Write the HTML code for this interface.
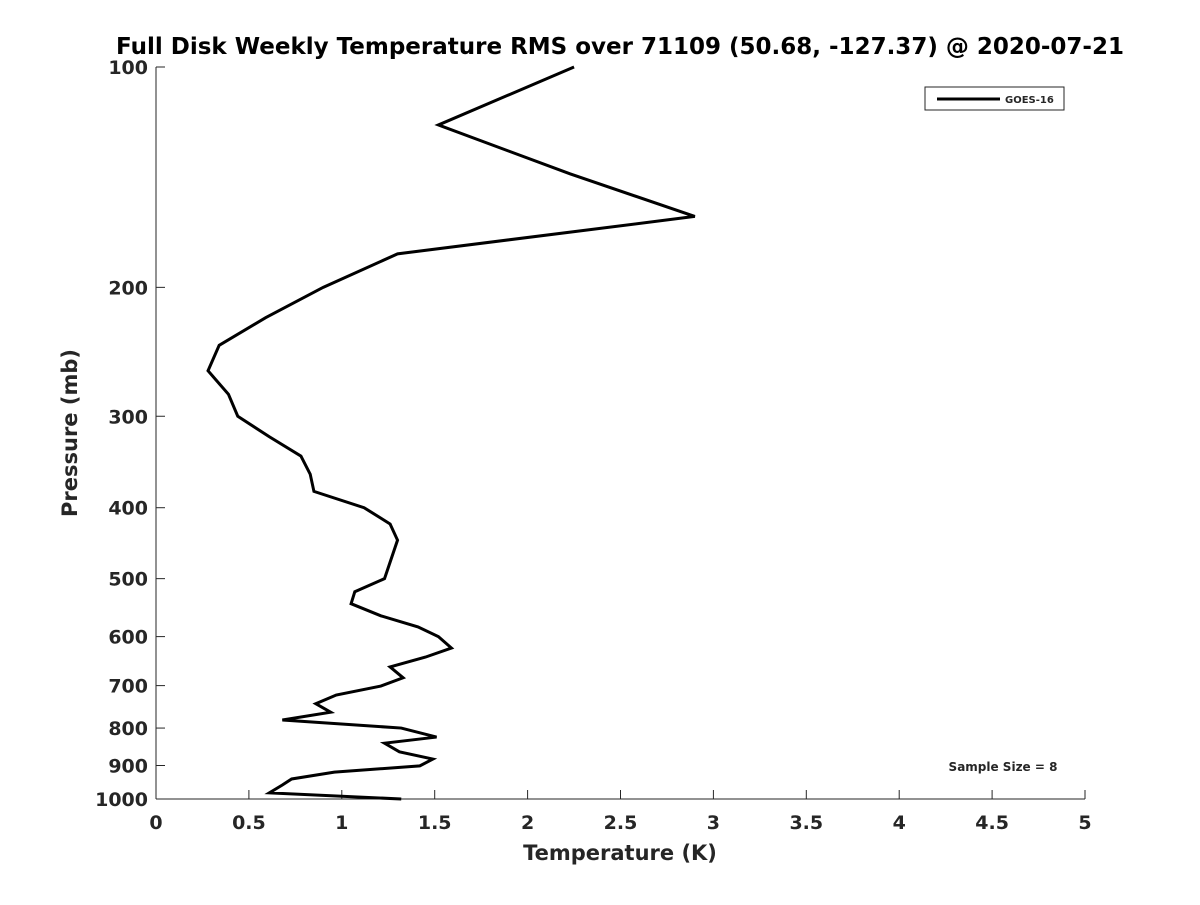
<!DOCTYPE html>
<html><head><meta charset="utf-8"><style>
body{margin:0;background:#fff;font-family:"Liberation Sans","DejaVu Sans",sans-serif;}
svg text{font-family:"DejaVu Sans","Liberation Sans",sans-serif;font-weight:bold;fill:#262626;}
</style></head><body>
<svg id="chart" width="1200" height="900" xmlns="http://www.w3.org/2000/svg">
<rect width="1200" height="900" fill="#fff"/>
<text x="620" y="54" font-size="23" text-anchor="middle" fill="#000" style="fill:#000">Full Disk Weekly Temperature RMS over 71109 (50.68, -127.37) @ 2020-07-21</text>
<g id="axes"></g>
<polyline id="series" fill="none" stroke="#000" stroke-width="3" stroke-linejoin="miter"/>
<text x="620" y="860" font-size="21" text-anchor="middle">Temperature (K)</text>
<text transform="translate(77,433) rotate(-90)" font-size="21" text-anchor="middle">Pressure (mb)</text>
<g>
<rect x="925" y="87" width="139" height="23" fill="#fff" stroke="#262626" stroke-width="1"/>
<line x1="937" y1="99" x2="1000" y2="99" stroke="#000" stroke-width="3"/>
<text x="1005" y="103" font-size="10">GOES-16</text>
</g>
<text x="1003" y="771" font-size="12" text-anchor="middle">Sample Size = 8</text>
</svg>
<script>
const temps=[2.25,1.52,2.23,2.90,1.30,0.90,0.59,0.34,0.28,0.39,0.44,0.61,0.78,0.83,0.85,1.12,1.26,1.30,1.23,1.07,1.05,1.21,1.41,1.52,1.59,1.45,1.26,1.33,1.21,0.97,0.86,0.94,0.68,1.32,1.51,1.23,1.31,1.49,1.42,0.96,0.73,0.68,0.61,1.32];
const pressures=[100,120,140,160,180,200,220,240,260,280,300,320,340,360,380,400,421,443,500,521,541,562,582,600,622,640,660,683,701,721,741,761,780,800,823,839,862,882,901,919,939,957,981,1000];
const xTicks=[0,0.5,1,1.5,2,2.5,3,3.5,4,4.5,5];
const xTickLabels=["0","0.5","1","1.5","2","2.5","3","3.5","4","4.5","5"];
const yTicks=[100,200,300,400,500,600,700,800,900,1000];
const L=156,R=1085,T=67,B=799;
function xs(v){return L+(v-0)/(5-0)*(R-L);}
function ys(p){return T+(Math.log10(p)-2)/(1)*(B-T);}
const NS="http://www.w3.org/2000/svg";
const ax=document.getElementById('axes');
function mk(tag,attrs){const e=document.createElementNS(NS,tag);for(const k in attrs)e.setAttribute(k,attrs[k]);return e;}
let l=mk('line',{x1:L,y1:T,x2:L,y2:B,stroke:'#262626','stroke-width':1});


ax.appendChild(l);
l=mk('line',{x1:L,y1:B,x2:R,y2:B,stroke:'#262626','stroke-width':1});


ax.appendChild(l);
xTicks.forEach((v,i)=>{
  const x=xs(v);
  const t=mk('line',{x1:x,y1:B,x2:x,y2:B-9,stroke:'#262626','stroke-width':1});
  
  
  ax.appendChild(t);
  const tx=mk('text',{x:x,y:B+30,'font-size':19,'text-anchor':'middle'});
  tx.textContent=xTickLabels[i];
  
  
  ax.appendChild(tx);
});
yTicks.forEach(p=>{
  const y=ys(p);
  const t=mk('line',{x1:L,y1:y,x2:L+9,y2:y,stroke:'#262626','stroke-width':1});
  
  
  ax.appendChild(t);
  const tx=mk('text',{x:L-8,y:y+7,'font-size':19,'text-anchor':'end'});
  tx.textContent=String(p);
  
  
  ax.appendChild(tx);
});
document.getElementById('series').setAttribute('points',temps.map((t,i)=>xs(t)+','+ys(pressures[i])).join(' '));
</script>
</body></html>
